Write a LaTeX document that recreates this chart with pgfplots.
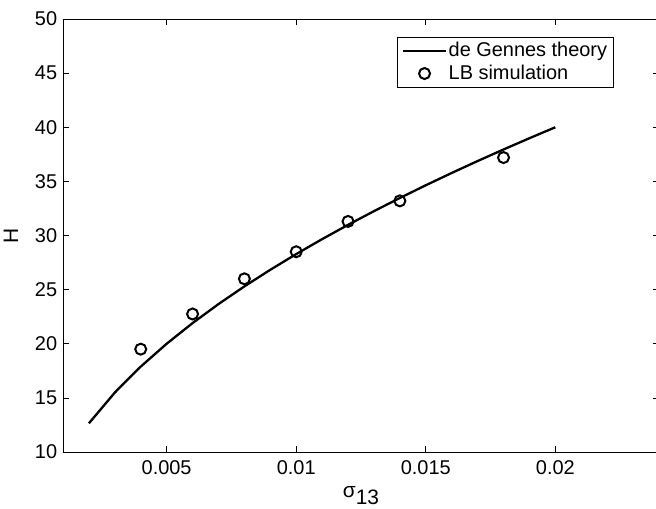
\documentclass[border=0pt]{standalone}
\usepackage{fontspec}
\setmainfont{Liberation Sans}
\usepackage{pgfplots}
\pgfplotsset{compat=1.18}
\pgfplotsset{
  mylineleg/.style={legend image code/.code={\draw[##1] (0bp,0bp) -- (43bp,0bp);}},
  mymarkleg/.style={legend image code/.code={\draw[mark repeat=2,mark phase=2,##1] plot coordinates {(0bp,0bp) (22bp,0bp) (43bp,0bp)};}},
}
\begin{document}
\fontsize{20}{23}\selectfont
\begin{tikzpicture}
\path[use as bounding box] (-63bp,-57bp) rectangle (593bp,452bp);
\begin{axis}[
  scale only axis,
  width=596bp, height=433bp,
  at={(0,0)}, anchor=south west,
  xmin=0.001, xmax=0.024,
  ymin=10, ymax=50,
  scaled ticks=false,
  xtick={0.005,0.01,0.015,0.02},
  xticklabels={0.005,0.01,0.015,0.02},
  ytick={10,15,20,25,30,35,40,45,50},
  yticklabels={10,15,20,25,30,35,40,45,50},
  tick align=inside,
  xtick pos=both, ytick pos=both,
  major tick length=6bp,
  every tick/.style={black, line width=0.6bp},
  axis line style={black, line width=0.9bp},
  tick label style={font=\fontsize{20}{23}\selectfont},
  xticklabel style={yshift=-2bp},
  yticklabel style={xshift=1bp},
  xlabel={σ\raisebox{-0.6ex}{13}},
  ylabel={H},
  label style={font=\fontsize{21}{24}\selectfont},
  xlabel style={at={(axis description cs:0.5,0)}, anchor=north, yshift=-28bp},
  ylabel style={at={(axis description cs:0,0.5)}, anchor=south, yshift=38bp},
  legend style={at={(axis description cs:0.5604,0.9584)}, anchor=north west,
    draw=black, line width=0.8bp, inner xsep=4bp, inner ysep=3bp, row sep=1bp,
    font=\fontsize{20}{23}\selectfont, cells={anchor=west}},
  legend cell align=left,
]
\addplot[black, line width=2.3bp, mark=none, mylineleg]
coordinates {
(0.002,12.649) (0.003,15.492) (0.004,17.889) (0.005,20.000)
(0.006,21.909) (0.007,23.664) (0.008,25.298) (0.009,26.833)
(0.010,28.284) (0.011,29.665) (0.012,30.984) (0.013,32.249)
(0.014,33.466) (0.015,34.641) (0.016,35.777) (0.017,36.878)
(0.018,37.947) (0.019,38.987) (0.020,40.000)
};
\addlegendentry{de Gennes theory}
\addplot[black, only marks, mark=o, mark size=5.5bp, line width=2bp, mymarkleg]
coordinates {
(0.004,19.5) (0.006,22.75) (0.008,26.0) (0.010,28.5)
(0.012,31.3) (0.014,33.2) (0.018,37.2)
};
\addlegendentry{LB simulation}
\end{axis}
\end{tikzpicture}
\end{document}
